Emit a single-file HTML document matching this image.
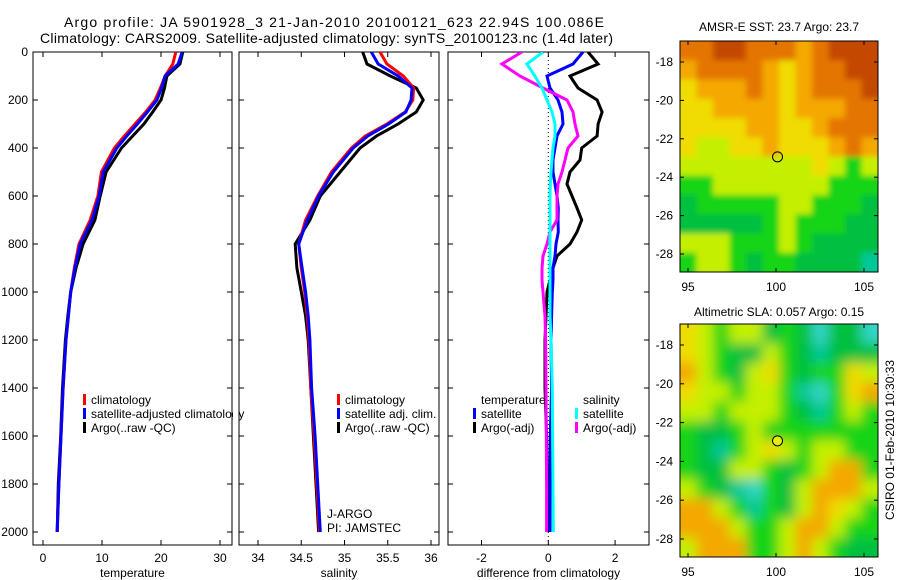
<!DOCTYPE html>
<html><head><meta charset="utf-8"><style>
body{margin:0;background:#fff;}
svg{display:block;font-family:"Liberation Sans",sans-serif;}
</style></head><body>
<svg id="chart" width="900" height="580" viewBox="0 0 900 580">
<defs>
<clipPath id="c1"><rect x="33" y="52" width="199" height="493"/></clipPath>
<clipPath id="c2"><rect x="239" y="52" width="200" height="493"/></clipPath>
<clipPath id="c3"><rect x="448" y="52" width="201" height="493"/></clipPath>
<clipPath id="cm1"><rect x="680" y="41" width="198" height="231"/></clipPath>
<clipPath id="cm2"><rect x="680" y="324" width="198" height="233"/></clipPath>
<filter id="b1" x="-10%" y="-10%" width="120%" height="120%"><feGaussianBlur stdDeviation="3"/></filter>
<filter id="b2" x="-10%" y="-10%" width="120%" height="120%"><feGaussianBlur stdDeviation="6"/></filter>
</defs>
<text x="64" y="27" font-size="14" textLength="540">Argo profile: JA 5901928_3 21-Jan-2010 20100121_623 22.94S 100.086E</text>
<text x="40" y="43" font-size="14" textLength="573">Climatology: CARS2009. Satellite-adjusted climatology: synTS_20100123.nc (1.4d later)</text>
<g id="plots"></g>
</svg>
<script>
// ---- data ----
const tsDepth = [0,50,100,150,200,250,300,350,400,500,600,700,800,900,1000,1100,1200,1400,1600,1800,2000];
const tempClim = [22.5,22.0,20.7,19.9,19.0,17.4,15.6,13.8,12.1,9.9,9.3,8.0,6.1,5.3,4.7,4.3,3.9,3.4,3.05,2.7,2.4];
const tempSat  = [23.6,22.9,20.7,20.1,19.3,17.7,16.0,14.2,12.5,10.2,9.5,8.3,6.3,5.4,4.7,4.3,3.9,3.4,3.05,2.7,2.4];
const tempArgo = [23.7,23.2,21.0,20.6,20.0,18.6,17.1,15.2,13.3,10.7,9.7,8.8,6.8,5.6,4.7,4.2,3.8,3.3,3.0,2.6,2.4];
const salClim = [35.41,35.49,35.68,35.80,35.79,35.70,35.49,35.24,35.08,34.85,34.69,34.55,34.47,34.50,34.54,34.57,34.59,34.61,34.65,34.68,34.71];
const salSat  = [35.31,35.39,35.62,35.78,35.77,35.71,35.51,35.27,35.10,34.87,34.70,34.57,34.47,34.51,34.55,34.58,34.60,34.62,34.66,34.69,34.72];
const salArgo = [35.21,35.26,35.53,35.83,35.91,35.83,35.62,35.37,35.18,34.95,34.72,34.60,34.43,34.45,34.50,34.55,34.58,34.61,34.64,34.67,34.70];
const diffDepth = [0,50,100,150,200,250,300,350,400,450,500,550,600,650,700,750,800,850,900,950,1000,1100,1200,1400,1600,1800,2000];
const dTempSat  = [1.04,0.74,-0.04,0.05,0.29,0.41,0.44,0.26,0.2,0.14,0.14,0.2,0.26,0.3,0.29,0.3,0.23,0.2,0.14,0.14,0.12,0.1,0.08,0.1,0.06,0.05,0.05];
const dTempArgo = [1.19,1.49,0.65,0.89,1.46,1.61,1.49,1.46,1.0,0.95,0.65,0.56,0.71,0.86,1.0,0.86,0.65,0.26,0.14,0.05,-0.04,-0.07,-0.1,-0.1,-0.05,-0.03,0];
const dSalSat   = [-0.16,-0.64,-0.4,-0.19,-0.04,0.11,0.2,0.2,0.14,0.11,0.08,0.06,0.05,0.05,0.05,0.05,0.05,0.05,0.05,0.05,0.05,0.05,0.08,0.12,0.13,0.14,0.15];
const dSalArgo  = [-0.79,-1.39,-0.85,-0.16,0.56,0.74,0.8,0.89,0.59,0.5,0.41,0.29,0.26,0.26,0.26,0.05,-0.04,-0.16,-0.19,-0.19,-0.16,-0.1,-0.08,-0.07,-0.06,-0.05,-0.05];
const depthTicks = [0,200,400,600,800,1000,1200,1400,1600,1800,2000];
const tempTicks = [0,10,20,30];
const salTicks = [34,34.5,35,35.5,36];
const diffTicks = [-2,0,2];
const lonTicks = [95,100,105];
const latTicks = [-18,-20,-22,-24,-26,-28];
const sstGrid = [
"OORROOOAORRR","AOOOOAYAOORR","YAAAOAYAOOOR","YYAAAAYAAAOO","YYYYAAYYAOOO","YLLYYAYYYAOA",
"LLLLLLLLYLGL","GGLLLLLLLGGG","DGGGGGLLGGGD","DDDDDGLGGGDD","LLLGGGLGDDDD","GLLGDGGDDDDT"];
const slaGrid = [
"YLGLLDGDCDDC","YLGDDLGDTDDD","ALGDLYGDGGYL","YLLGLLGTCGYA","LLGLLLGDTGLG","GDDGLGGGGGGG",
"GDTGLYLGLLGG","GDDLLGDGLAAG","LGDTCGDLAAAL","AALGTGDLAYLG","AAALGGLAALGG","LAAAGGLALGDD"];
const argoLon = 100.086, argoLat = -22.94;

// ---- helpers ----
const NS="http://www.w3.org/2000/svg";
const root=document.getElementById('plots');
function mk(tag,attrs,parent){const e=document.createElementNS(NS,tag);for(const k in attrs)e.setAttribute(k,attrs[k]);(parent||root).appendChild(e);return e;}
const yD = d => 52 + 0.24*d;
const xT = v => 43 + 5.9*v;
const xS = v => 258 + 86.5*(v-34);
const xDf = v => 548.3 + 33.4*v;

function frame(x0,x1,y0,y1,name){
  const r=mk('rect',{x:x0,y:y0,width:x1-x0,height:y1-y0,fill:'none',stroke:'#000','stroke-width':1});
  
  
}
function panelAxes(x0,x1,xs,ticks,title,yLabels,name){
  frame(x0,x1,52,545,name+'-frame');
  depthTicks.forEach(d=>{
    const y=yD(d);
    mk('line',{x1:x0,x2:x0+5,y1:y,y2:y,stroke:'#000'});
    mk('line',{x1:x1,x2:x1-5,y1:y,y2:y,stroke:'#000'});
    if(yLabels){const t=mk('text',{x:28,y:y+4,'font-size':12,'text-anchor':'end'});t.textContent=d;
      
      }
  });
  ticks.forEach(v=>{
    const x=xs(v);
    mk('line',{x1:x,x2:x,y1:545,y2:540,stroke:'#000'});
    mk('line',{x1:x,x2:x,y1:52,y2:57,stroke:'#000'});
    const t=mk('text',{x:x,y:562,'font-size':12,'text-anchor':'middle'});t.textContent=v;
    
    
  });
  const tt=mk('text',{x:(x0+x1)/2,y:577,'font-size':12,'text-anchor':'middle'});tt.textContent=title;
  
  
}
function line(depths,vals,xs,color,clip,name){
  const pts=depths.map((d,i)=>xs(vals[i]).toFixed(1)+','+yD(d).toFixed(1)).join(' ');
  const p=mk('polyline',{points:pts,fill:'none',stroke:color,'stroke-width':3,'clip-path':'url(#'+clip+')'});
  
  
}
function legend(x,y,color,label,name){
  if(color){mk('rect',{x:x,y:y-10,width:3,height:11,fill:color});}
  const t=mk('text',{x:x+(color?8:0),y:y,'font-size':12});t.textContent=label;
  
  
}

// ---- panel 1 temperature ----
panelAxes(33,232,xT,tempTicks,'temperature',true,'temperature-panel');
line(tsDepth,tempArgo,xT,'#000','c1','temp-argo-line');
line(tsDepth,tempClim,xT,'#f00','c1','temp-climatology-line');
line(tsDepth,tempSat,xT,'#00f','c1','temp-satellite-line');
legend(83,404,'#f00','climatology','temp-legend-climatology');
legend(83,418,'#00f','satellite-adjusted climatology','temp-legend-satellite');
legend(83,432,'#000','Argo(..raw -QC)','temp-legend-argo');
// mask overflow legend text
mk('rect',{x:233,y:395,width:5,height:30,fill:'#fff'});

// ---- panel 2 salinity ----
panelAxes(239,439,xS,salTicks,'salinity',false,'salinity-panel');
line(tsDepth,salArgo,xS,'#000','c2','sal-argo-line');
line(tsDepth,salClim,xS,'#f00','c2','sal-climatology-line');
line(tsDepth,salSat,xS,'#00f','c2','sal-satellite-line');
legend(337,404,'#f00','climatology','sal-legend-climatology');
legend(337,418,'#00f','satellite adj. clim.','sal-legend-satellite');
legend(337,432,'#000','Argo(..raw -QC)','sal-legend-argo');
legend(327,518,null,'J-ARGO','j-argo-label');
legend(327,532,null,'PI: JAMSTEC','pi-label');

// ---- panel 3 difference ----
panelAxes(448,649,xDf,diffTicks,'difference from climatology',false,'difference-panel');
mk('line',{x1:xDf(0),x2:xDf(0),y1:52,y2:545,stroke:'#000','stroke-dasharray':'1,3'});
line(diffDepth,dTempArgo,xDf,'#000','c3','diff-temp-argo-line');
line(diffDepth,dTempSat,xDf,'#00f','c3','diff-temp-satellite-line');
line(diffDepth,dSalArgo,xDf,'#f0f','c3','diff-sal-argo-line');
line(diffDepth,dSalSat,xDf,'#0ff','c3','diff-sal-satellite-line');
legend(481,404,null,'temperature','diff-legend-temperature-heading');
legend(473,418,'#00f','satellite','diff-legend-temp-satellite');
legend(473,432,'#000','Argo(-adj)','diff-legend-temp-argo');
legend(583,404,null,'salinity','diff-legend-salinity-heading');
legend(575,418,'#0ff','satellite','diff-legend-sal-satellite');
legend(575,432,'#f0f','Argo(-adj)','diff-legend-sal-argo');

// ---- maps ----
const palette={R:'#c44a00',O:'#e47600',A:'#f4a800',Y:'#f0dc00',L:'#c4f000',G:'#14d414',D:'#00c040',T:'#00c896',C:'#30d4c4'};
function map(grid,y0,y1,latY,clip,blur,title,titleY,name,filled){
  const x0=680,x1=878,g=mk('g',{'clip-path':'url(#'+clip+')'});
  
  
  const inner=mk('g',{filter:'url(#'+blur+')'},g);
  const rows=grid.length,cols=grid[0].length;
  const cw=(x1-x0)/cols,ch=(y1-y0)/rows;
  grid.forEach((row,r)=>{[...row].forEach((c,k)=>{
    let x=x0+k*cw,y=y0+r*ch,w=cw+0.5,h=ch+0.5;
    if(k===0){x-=12;w+=12;} if(k===cols-1){w+=12;}
    if(r===0){y-=12;h+=12;} if(r===rows-1){h+=12;}
    const cell=mk('rect',{x:x,y:y,width:w,height:h,fill:palette[c]},inner);
    
    
  });});
  frame(x0,x1,y0,y1,name+'-frame');
  const xl=v=>688+17.6*(v-95);
  lonTicks.forEach(v=>{const x=xl(v);
    mk('line',{x1:x,x2:x,y1:y1,y2:y1-4,stroke:'#000'});mk('line',{x1:x,x2:x,y1:y0,y2:y0+4,stroke:'#000'});
    const t=mk('text',{x:x,y:y1+19,'font-size':12,'text-anchor':'middle'});t.textContent=v;
    
    });
  latTicks.forEach(v=>{const y=latY(v);
    mk('line',{x1:x0,x2:x0+4,y1:y,y2:y,stroke:'#000'});mk('line',{x1:x1,x2:x1-4,y1:y,y2:y,stroke:'#000'});
    const t=mk('text',{x:673,y:y+4,'font-size':12,'text-anchor':'end'});t.textContent=v;
    
    });
  const c=mk('circle',{cx:xl(argoLon),cy:latY(argoLat),r:5,fill:filled?'#e0f000':'none',stroke:'#000','stroke-width':1});
  
  
  const tt=mk('text',{x:(x0+x1)/2,y:titleY,'font-size':12,'text-anchor':'middle'});tt.textContent=title;
  
  
}
map(sstGrid,41,272,v=>62+19.2*(-18-v),'cm1','b1','AMSR-E SST: 23.7 Argo: 23.7',31,'sst-map',false);
map(slaGrid,324,557,v=>345+19.4*(-18-v),'cm2','b2','Altimetric SLA: 0.057 Argo: 0.15',316,'sla-map',true);
const cs=mk('text',{x:0,y:0,'font-size':12,'text-anchor':'middle',transform:'translate(894,440) rotate(-90)'});
cs.textContent='CSIRO 01-Feb-2010 10:30:33';


</script>
</body></html>
